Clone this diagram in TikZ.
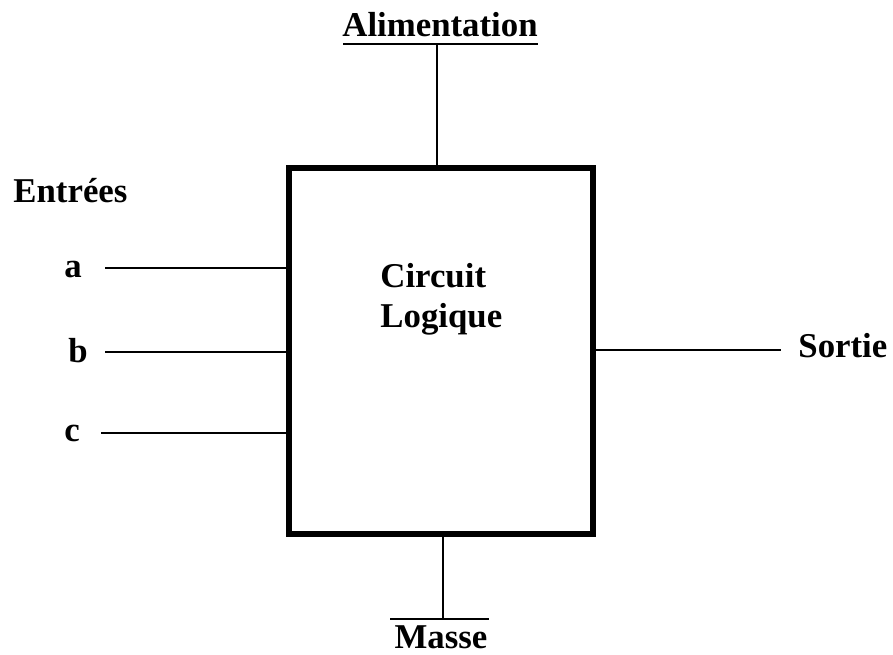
\documentclass[tikz,border=0pt]{standalone}
\usepackage{fontspec}
\setmainfont{Liberation Serif}
\usetikzlibrary{positioning}
\tikzset{
  lbl/.style={font=\fontsize{17.4}{20}\selectfont\bfseries, inner sep=0pt},
  circuitbox/.style={draw, line width=3pt, minimum width=152pt, minimum height=183pt, inner sep=0pt},
  wire/.style={line width=0.8pt},
  bar/.style={line width=0.9pt}
}

\begin{document}
\begin{tikzpicture}[x=0.5pt, y=-0.5pt]
  \useasboundingbox (0,0) rectangle (893,654);

  \node[circuitbox] (cl) at (441,351) {};
  \node[lbl, align=left, anchor=base west] (txt) at (380,327) {Circuit\\Logique};

  % entrees
  \node[lbl, anchor=base west] (ent) at (13,202) {Entrées};
  \node[lbl, anchor=base west] (a) at (64,277) {a};
  \node[lbl, anchor=base west] (b) at (68,362) {b};
  \node[lbl, anchor=base west] (c) at (64,441) {c};
  \coordinate (ina) at (105,268);
  \coordinate (inb) at (105,352);
  \coordinate (inc) at (101,433);
  \draw[wire] (ina) -- (ina -| cl.west);
  \draw[wire] (inb) -- (inb -| cl.west);
  \draw[wire] (inc) -- (inc -| cl.west);

  % sortie
  \node[lbl, anchor=base west] (sort) at (798,357) {Sortie};
  \coordinate (outs) at (781,350);
  \draw[wire] (outs -| cl.east) -- (outs);

  % alimentation
  \node[lbl, anchor=base] (alim) at (440,36) {Alimentation};
  \coordinate (alimtop) at (437,44);
  \draw[bar] (343,44) -- (538,44);
  \draw[wire] (alimtop) -- (alimtop |- cl.north);

  % masse
  \node[lbl, anchor=base] (masse) at (441,648) {Masse};
  \coordinate (massebot) at (443,619);
  \draw[bar] (390,619) -- (489,619);
  \draw[wire] (massebot |- cl.south) -- (massebot);
\end{tikzpicture}
\end{document}
